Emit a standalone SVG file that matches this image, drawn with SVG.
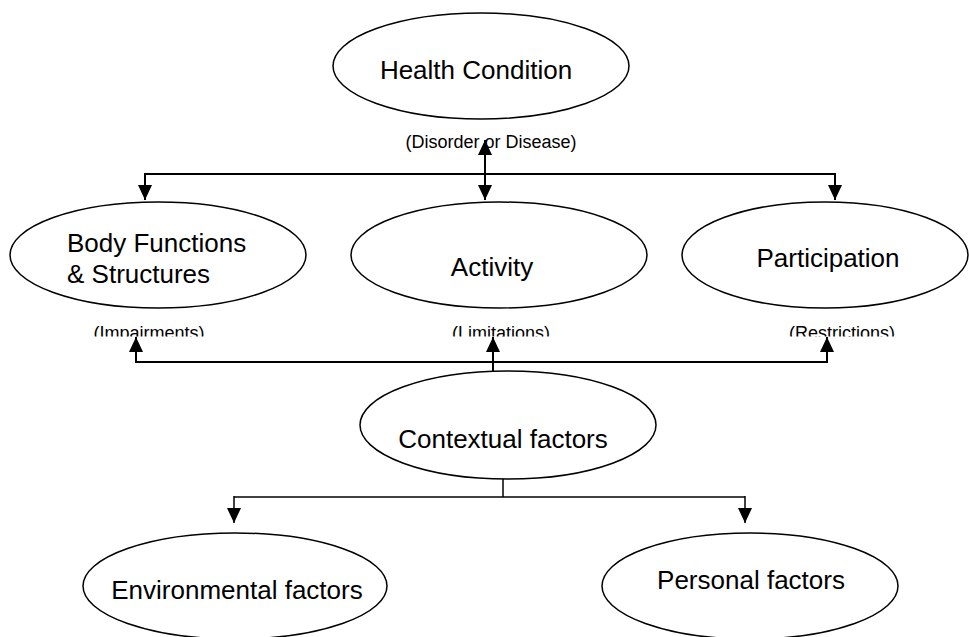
<svg xmlns="http://www.w3.org/2000/svg" width="969" height="637" viewBox="0 0 969 637">
<defs>
<style>
.node ellipse{fill:#fff;stroke:#000;stroke-width:1.5}
.lbl{font-family:"Liberation Sans",Arial,sans-serif;font-size:26px;fill:#000}
.sub{font-family:"Liberation Sans",Arial,sans-serif;font-size:18px;fill:#000}
.conn line,.conn polyline{fill:none;stroke:#000;stroke-width:2}
</style>
<marker id="ah" markerUnits="userSpaceOnUse" markerWidth="15" markerHeight="15" viewBox="0 0 15 15" refX="15" refY="7.5" orient="auto">
<path d="M0,0.5 L15,7.5 L0,14.5 Z" fill="#000"/>
</marker>
<clipPath id="clipSub"><rect x="0" y="300" width="969" height="36.5"/></clipPath>
</defs>
<rect width="969" height="637" fill="#fff"/>

<g id="health-condition" class="node">
<ellipse cx="481" cy="66" rx="148" ry="53"/>
<text class="lbl" x="476" y="79" text-anchor="middle">Health Condition</text>
<text class="sub" x="491" y="148" text-anchor="middle">(Disorder or Disease)</text>
</g>

<g id="body-functions" class="node">
<ellipse cx="158" cy="255" rx="148" ry="53"/>
<text class="lbl" x="67" y="252">Body Functions</text>
<text class="lbl" x="67" y="283">&amp; Structures</text>
<text class="sub" x="149" y="339" text-anchor="middle" clip-path="url(#clipSub)">(Impairments)</text>
</g>

<g id="activity" class="node">
<ellipse cx="499" cy="255" rx="148" ry="53"/>
<text class="lbl" x="492" y="276" text-anchor="middle">Activity</text>
<text class="sub" x="501" y="339" text-anchor="middle" clip-path="url(#clipSub)">(Limitations)</text>
</g>

<g id="participation" class="node">
<ellipse cx="825" cy="255" rx="143" ry="53"/>
<text class="lbl" x="828" y="267" text-anchor="middle">Participation</text>
<text class="sub" x="842" y="339" text-anchor="middle" clip-path="url(#clipSub)">(Restrictions)</text>
</g>

<g id="contextual-factors" class="node">
<ellipse cx="508" cy="425" rx="148" ry="54"/>
<text class="lbl" x="503" y="448" text-anchor="middle">Contextual factors</text>
</g>

<g id="environmental-factors" class="node">
<ellipse cx="235" cy="586" rx="152" ry="53"/>
<text class="lbl" x="237" y="599" text-anchor="middle">Environmental factors</text>
</g>

<g id="personal-factors" class="node">
<ellipse cx="750" cy="586" rx="148" ry="53"/>
<text class="lbl" x="751" y="589" text-anchor="middle">Personal factors</text>
</g>

<g id="connectors" class="conn">
<line x1="145" y1="174" x2="835" y2="174"/>
<line x1="485" y1="174" x2="485" y2="140" marker-end="url(#ah)"/>
<line x1="485" y1="174" x2="485" y2="200" marker-end="url(#ah)"/>
<line x1="145" y1="173" x2="145" y2="200" marker-end="url(#ah)"/>
<line x1="835" y1="173" x2="835" y2="200" marker-end="url(#ah)"/>

<line x1="136" y1="362" x2="827" y2="362"/>
<line x1="493" y1="372" x2="493" y2="337" marker-end="url(#ah)"/>
<line x1="136" y1="363" x2="136" y2="337" marker-end="url(#ah)"/>
<line x1="827" y1="363" x2="827" y2="337" marker-end="url(#ah)"/>

<line x1="503" y1="479" x2="503" y2="497" style="stroke-width:1.5"/>
<line x1="234" y1="497" x2="745" y2="497" style="stroke-width:1.5"/>
<line x1="234" y1="496" x2="234" y2="523" marker-end="url(#ah)" style="stroke-width:1.5"/>
<line x1="745" y1="496" x2="745" y2="523" marker-end="url(#ah)" style="stroke-width:1.5"/>
</g>
</svg>
